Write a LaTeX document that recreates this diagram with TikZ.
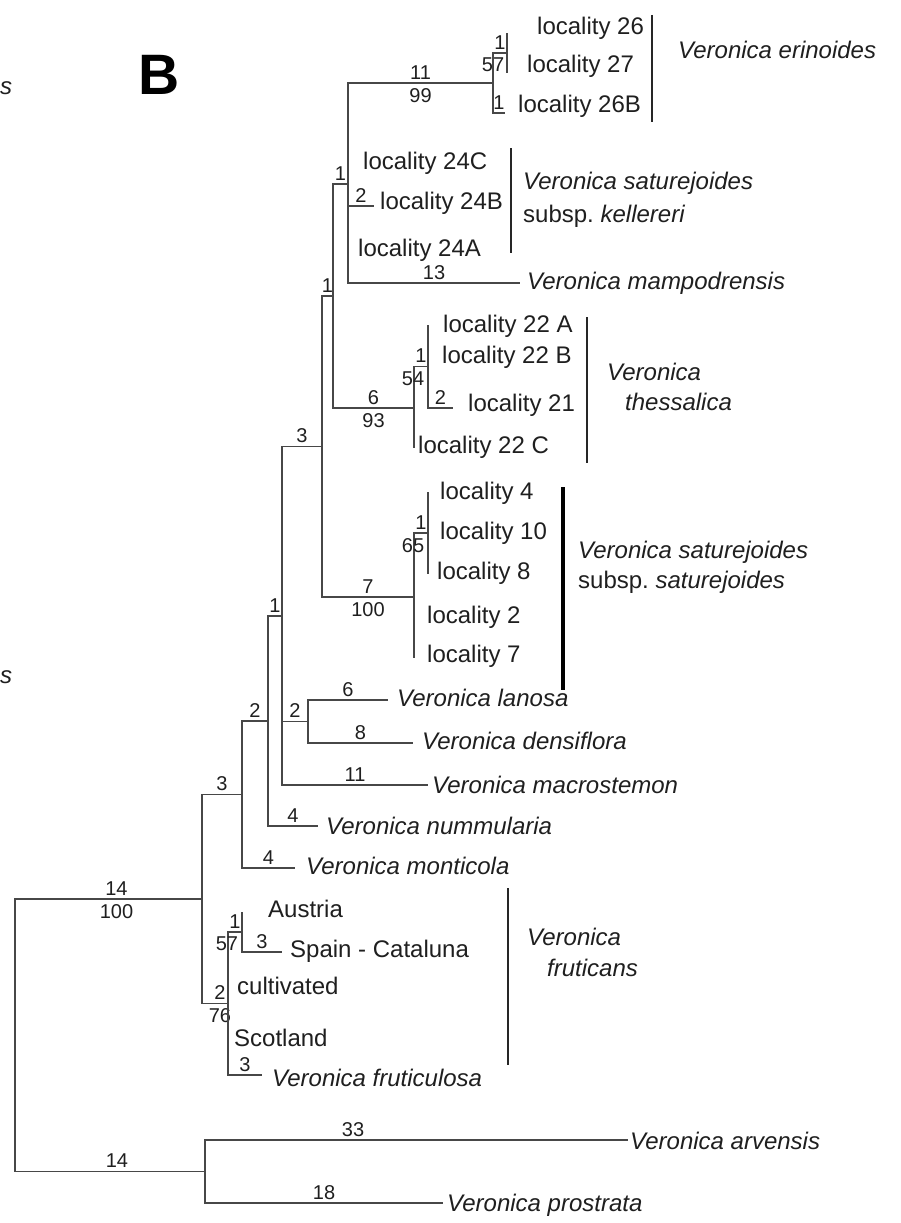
\documentclass[tikz,border=0pt]{standalone}
\usepackage{fontspec}
\setmainfont{Liberation Sans}
\newcommand\taxfont{\fontsize{24}{28}\selectfont}
\newcommand\nlfont{\fontsize{20}{23}\selectfont}
\begin{document}
\begin{tikzpicture}[x=1pt,y=-1pt,
  br/.style={draw=black!72, line width=1.3pt},
  bar/.style={draw=black!85, line width=1.6pt},
  tip/.style={anchor=west, inner sep=0pt, font=\taxfont, text=black!88},
  itip/.style={anchor=west, inner sep=0pt, font=\taxfont\itshape, text=black!88},
  bl/.style={pos=0.75, font=\nlfont, inner sep=0.5pt, above=2.5pt, text=black!88},
  bs/.style={pos=0.75, font=\nlfont, inner sep=0.5pt, below=4pt, text=black!88}]
\useasboundingbox[fill=white] (0,0) rectangle (900,1223);

% panel letter and cut-off text of neighbouring panel
\node[font=\fontsize{57}{60}\selectfont\bfseries] (title) at (159,75) {B};
\node[itip] (sA) at (0,88) {s};
\node[itip] (sB) at (0,677) {s};

% internal nodes
\coordinate (R) at (15,1035.5);
\coordinate (A) at (202,899);
\coordinate (Out) at (205,1171.5);
\coordinate (N3) at (242,794.5);
\coordinate (F) at (228,1003.5);
\coordinate (F1) at (242,932);
\coordinate (N2a) at (268,721);
\coordinate (N1) at (282,616);
\coordinate (N2b) at (308,721.5);
\coordinate (N3b) at (322,446.5);
\coordinate (N1c) at (333,296);
\coordinate (N1d) at (348,184);
\coordinate (Er) at (493,83);
\coordinate (B1) at (507,53);
\coordinate (N6) at (414,408);
\coordinate (N6a) at (428,366.5);
\coordinate (N7) at (414,597);
\coordinate (N7a) at (428,533);

% tip ends
\coordinate (eArv) at (628,1140);
\coordinate (ePro) at (443,1203);
\coordinate (eFruc) at (262,1075);
\coordinate (eAus) at (242,912);
\coordinate (eSpa) at (282,952);
\coordinate (eMont) at (295,868);
\coordinate (eNumm) at (318,826);
\coordinate (eMac) at (428,785);
\coordinate (eLan) at (388,700);
\coordinate (eDens) at (413,743);
\coordinate (eMamp) at (520,283);
\coordinate (e24B) at (374,206);
\coordinate (e26) at (507,33);
\coordinate (e27) at (507,73);
\coordinate (e26B) at (505,113);
\coordinate (e22A) at (428,325);
\coordinate (e21) at (453,408);
\coordinate (e22C) at (414,448);
\coordinate (e4) at (428,492);
\coordinate (e8) at (428,574);
\coordinate (e7) at (414,658);

% branches
\draw[br] (R) |- node[bl,xshift=8pt]{14} node[bs,xshift=8pt]{100} (A);
\draw[br] (R) |- node[bl,xshift=7pt]{14} (Out);
\draw[br] (Out) |- node[bl,pos=0.675]{33} (eArv);
\draw[br] (Out) |- node[bl]{18} (ePro);
\draw[br] (A) |- node[bl]{3} (N3);
\draw[br] (A) |- node[bl,xshift=5pt]{2} node[bs,xshift=5pt]{76} (F);
\draw[br] (F) |- node[bl]{1} node[bs,xshift=-8pt]{57} (F1);
\draw[br] (F) |- node[bl]{3} (eFruc);
\draw[br] (F1) -- (eAus);
\draw[br] (F1) |- node[bl]{3} (eSpa);
\draw[br] (N3) |- node[bl]{2} (N2a);
\draw[br] (N3) |- node[bl]{4} (eMont);
\draw[br] (N2a) |- node[bl]{1} (N1);
\draw[br] (N2a) |- node[bl]{4} (eNumm);
\draw[br] (N1) |- node[bl]{3} (N3b);
\draw[br] (N1) |- node[bl]{2} (N2b);
\draw[br] (N1) |- node[bl]{11} (eMac);
\draw[br] (N2b) |- node[bl]{6} (eLan);
\draw[br] (N2b) |- node[bl]{8} (eDens);
\draw[br] (N3b) |- node[bl]{1} (N1c);
\draw[br] (N3b) |- node[bl]{7} node[bs]{100} (N7);
\draw[br] (N1c) |- node[bl]{1} (N1d);
\draw[br] (N1c) |- node[bl]{6} node[bs]{93} (N6);
\draw[br] (N1d) |- node[bl]{11} node[bs]{99} (Er);
\draw[br] (N1d) |- node[bl]{2} (e24B);
\draw[br] (N1d) |- node[bl]{13} (eMamp);
\draw[br] (Er) |- node[bl]{1} node[bs,xshift=-7pt]{57} (B1);
\draw[br] (Er) |- node[bl]{1} (e26B);
\draw[br] (B1) -- (e26);
\draw[br] (B1) -- (e27);
\draw[br] (N6) |- node[bl]{1} node[bs,xshift=-8pt]{54} (N6a);
\draw[br] (N6) -- (e22C);
\draw[br] (N6a) -- (e22A);
\draw[br] (N6a) |- node[bl]{2} (e21);
\draw[br] (N7) |- node[bl]{1} node[bs,xshift=-8pt]{65} (N7a);
\draw[br] (N7) -- (e7);
\draw[br] (N7a) -- (e4);
\draw[br] (N7a) -- (e8);

% taxa
\node[tip] (t26) at (537,28) {locality 26};
\node[tip] (t27) at (527,66) {locality 27};
\node[tip] (t26B) at (518,106) {locality 26B};
\node[itip] (gEri) at (678,50) {Veronica erinoides};
\node[tip] (t24C) at (363,163) {locality 24C};
\node[tip] (t24B) at (380,203) {locality 24B};
\node[tip] (t24A) at (358,250) {locality 24A};
\node[itip] (gKel1) at (523,183) {Veronica saturejoides};
\node[tip] (gKel2) at (523,216) {subsp.\ \textit{kellereri}};
\node[itip] (tMamp) at (527,283) {Veronica mampodrensis};
\node[tip] (t22A) at (443,326) {locality 22 A};
\node[tip] (t22B) at (442,357) {locality 22 B};
\node[tip] (t21) at (468,405) {locality 21};
\node[tip] (t22C) at (418,447) {locality 22 C};
\node[itip] (gThe1) at (607,372) {Veronica};
\node[itip] (gThe2) at (625,402) {thessalica};
\node[tip] (t4) at (440,493) {locality 4};
\node[tip] (t10) at (440,533) {locality 10};
\node[tip] (t8) at (437,573) {locality 8};
\node[tip] (t2) at (427,617) {locality 2};
\node[tip] (t7) at (427,656) {locality 7};
\node[itip] (gSat1) at (578,552) {Veronica saturejoides};
\node[tip] (gSat2) at (578,582) {subsp.\ \textit{saturejoides}};
\node[itip] (tLan) at (397,698) {Veronica lanosa};
\node[itip] (tDens) at (422,741) {Veronica densiflora};
\node[itip] (tMac) at (432,785) {Veronica macrostemon};
\node[itip] (tNumm) at (326,826) {Veronica nummularia};
\node[itip] (tMont) at (306,866) {Veronica monticola};
\node[tip] (tAus) at (268,909) {Austria};
\node[tip] (tSpa) at (290,951) {Spain - Cataluna};
\node[tip] (tCul) at (237,986) {cultivated};
\node[tip] (tSco) at (234,1038) {Scotland};
\node[itip] (tFruc) at (272,1078) {Veronica fruticulosa};
\node[itip] (gFru1) at (527,937) {Veronica};
\node[itip] (gFru2) at (547,968) {fruticans};
\node[itip] (tArv) at (630,1141) {Veronica arvensis};
\node[itip] (tPro) at (447,1205) {Veronica prostrata};

% group bars
\coordinate (b1t) at (652,15);  \coordinate (b1b) at (652,122);
\coordinate (b2t) at (511,148); \coordinate (b2b) at (511,253);
\coordinate (b3t) at (587,317); \coordinate (b3b) at (587,463);
\coordinate (b4t) at (563,487); \coordinate (b4b) at (563,690);
\coordinate (b5t) at (508,888); \coordinate (b5b) at (508,1065);
\draw[bar] (b1t) -- (b1b);
\draw[bar] (b2t) -- (b2b);
\draw[bar] (b3t) -- (b3b);
\draw[bar, draw=black, line width=4pt] (b4t) -- (b4b);
\draw[bar] (b5t) -- (b5b);
\end{tikzpicture}
\end{document}
